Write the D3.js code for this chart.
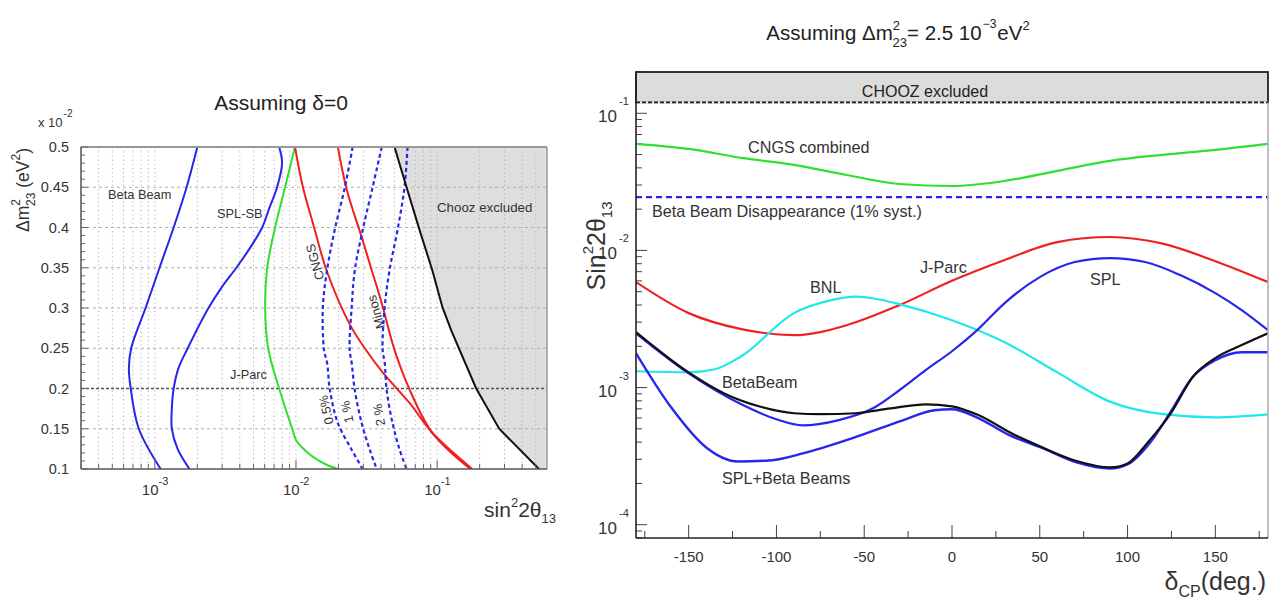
<!DOCTYPE html>
<html><head><meta charset="utf-8">
<script src="https://cdn.jsdelivr.net/npm/d3@7"></script>
<style>
body{margin:0;background:#fff}
svg{font-family:"Liberation Sans",Arial,Helvetica,sans-serif}
</style></head>
<body><svg id="c" width="1274" height="600"></svg>
<script>
// ---------------- LEFT PANEL DATA (sin^2 2theta13 vs dm2_23 [x1e-2 eV^2]) ----------------
const betaBeamDm2 = [0.5,0.45,0.4,0.35,0.3,0.25,0.225,0.2,0.15,0.1];
const betaBeamSin = [2.0e-3,1.68e-3,1.36e-3,1.08e-3,8.6e-4,6.8e-4,6.55e-4,6.75e-4,7.7e-4,1.1e-3];
const splSbDm2 = [0.5,0.48,0.45,0.425,0.4,0.375,0.35,0.325,0.3,0.25,0.225,0.2,0.175,0.15,0.125,0.1];
const splSbSin = [7.6e-3,7.97e-3,7.35e-3,6.5e-3,5.76e-3,4.74e-3,3.78e-3,2.96e-3,2.4e-3,1.71e-3,1.47e-3,1.36e-3,1.32e-3,1.32e-3,1.45e-3,1.76e-3];
const jparcDm2 = [0.5,0.45,0.4,0.35,0.3,0.25,0.2,0.15,0.136,0.127,0.115,0.105,0.1];
const jparcSin = [9.84e-3,8.37e-3,7.11e-3,6.25e-3,6.05e-3,6.35e-3,7.6e-3,9.4e-3,1.0e-2,1.1e-2,1.32e-2,1.66e-2,1.98e-2];
const cngsDm2 = [0.5,0.45,0.405,0.345,0.28,0.25,0.22,0.182,0.145,0.1];
const cngsSin = [9.84e-3,1.12e-2,1.32e-2,1.66e-2,2.4e-2,3.07e-2,4.11e-2,6.37e-2,9.24e-2,0.177];
const minosDm2 = [0.5,0.447,0.388,0.347,0.306,0.248,0.199,0.145,0.1];
const minosSin = [1.98e-2,2.29e-2,2.92e-2,3.44e-2,4.05e-2,4.99e-2,6.37e-2,9.24e-2,0.172];
const systDm2 = [0.5,0.45,0.397,0.347,0.301,0.248,0.232,0.198,0.157,0.124,0.1];
const syst05Sin = [2.52e-2,2.22e-2,1.88e-2,1.66e-2,1.55e-2,1.58e-2,1.66e-2,1.74e-2,1.98e-2,2.48e-2,2.97e-2];
const syst1Sin = [4.05e-2,3.49e-2,2.97e-2,2.61e-2,2.48e-2,2.4e-2,2.48e-2,2.61e-2,2.92e-2,3.33e-2,3.73e-2];
const syst2Sin = [6.17e-2,5.87e-2,5.24e-2,4.6e-2,4.25e-2,4.11e-2,4.25e-2,4.39e-2,4.83e-2,5.42e-2,6.07e-2];
const choozDm2 = [0.5,0.45,0.397,0.347,0.301,0.272,0.2,0.15,0.1];
const choozSin = [4.99e-2,6.07e-2,7.5e-2,9.24e-2,0.109,0.126,0.189,0.275,0.526];
const leftYTicks = [0.1,0.15,0.2,0.25,0.3,0.35,0.4,0.45,0.5];
const leftXDecades = [-3,-2,-1];

// ---------------- RIGHT PANEL DATA (sin^2 2theta13 vs deltaCP) ----------------
const cngsCombDelta = [-180,-150,-120,-90,-60,-30,0,30,60,90,120,150,180];
const cngsCombVal = [0.0599,0.055,0.0473,0.0421,0.0355,0.0305,0.0295,0.0321,0.038,0.045,0.0498,0.0541,0.0599];
const bbDisDelta = [-180,180];
const bbDisVal = [0.0245,0.0245];
const jparcRDelta = [-180,-150,-120,-90,-60,-30,0,30,60,90,120,150,180];
const jparcRVal = [5.88e-3,3.49e-3,2.67e-3,2.41e-3,2.85e-3,3.99e-3,6.0e-3,8.51e-3,1.151e-2,1.253e-2,1.12e-2,8.35e-3,5.88e-3];
const bnlDelta = [-180,-150,-135,-120,-90,-70,-55,-40,-30,0,30,60,90,120,150,180];
const bnlVal = [1.315e-3,1.293e-3,1.36e-3,1.693e-3,3.49e-3,4.3e-3,4.6e-3,4.35e-3,4.06e-3,3.1e-3,2.14e-3,1.29e-3,7.9e-4,6.4e-4,6.07e-4,6.38e-4];
const betaBeamRDelta = [-180,-150,-130,-110,-90,-75,-55,-35,-15,0,15,35,50,70,90,100,112,125,137,150,165,180];
const betaBeamRVal = [2.54e-3,1.29e-3,9.1e-4,7.3e-4,6.5e-4,6.4e-4,6.5e-4,7.06e-4,7.55e-4,7.3e-4,6.3e-4,4.56e-4,3.73e-4,2.94e-4,2.62e-4,2.8e-4,4.05e-4,6.6e-4,1.19e-3,1.64e-3,2.04e-3,2.49e-3];
const splDelta = [-180,-150,-120,-100,-85,-65,-45,-30,-15,0,15,30,50,70,90,110,130,150,165,180];
const splVal = [2.49e-3,1.27e-3,7.55e-4,5.87e-4,5.3e-4,5.77e-4,7.06e-4,9.56e-4,1.34e-3,1.84e-3,2.67e-3,4.13e-3,6.39e-3,8.23e-3,8.8e-3,8.23e-3,6.61e-3,4.88e-3,3.67e-3,2.62e-3];
const splBbDelta = [-180,-160,-140,-122,-104,-85,-57,-28,-10,0,14,33,52,71,90,101,113,124,137,150,165,180];
const splBbVal = [1.78e-3,7.18e-4,3.66e-4,2.89e-4,2.94e-4,3.31e-4,4.26e-4,5.77e-4,6.83e-4,6.94e-4,6.07e-4,4.48e-4,3.6e-4,2.85e-4,2.57e-4,2.8e-4,3.99e-4,6.49e-4,1.189e-3,1.583e-3,1.81e-3,1.81e-3];
const choozLimit = 0.12;
const rightXTicks = [-150,-100,-50,0,50,100,150];
const rightYDecades = [-4,-3,-2,-1];

// ---------------- COLORS ----------------
const BLUE="#2626ee", RED="#f02020", GREEN="#30e030", CYAN="#20e8e8";

const svg = d3.select("#c");

function rich(g, x, y, parts, attrs){
  const t = g.append("text").attr("x",x).attr("y",y);
  Object.entries(attrs||{}).forEach(([k,v])=>t.attr(k,v));
  let cur=0;
  parts.forEach(p=>{
    const [s, sh=0, fs=null, dx=0] = p;
    const ts = t.append("tspan").text(s).attr("dy", sh-cur);
    if(fs) ts.attr("font-size", fs);
    if(dx) ts.attr("dx", dx);
    cur = sh;
  });
  return t;
}

// ================= LEFT PANEL =================
const L = {l:81, r:547, t:147, b:469};
const Lx = d3.scaleLog().domain([3e-4,0.6]).range([L.l, L.r]);
const Ly = d3.scaleLinear().domain([0.1,0.5]).range([L.b, L.t]);
const lg = svg.append("g");
lg.append("clipPath").attr("id","clipL").append("rect")
  .attr("x",L.l).attr("y",L.t).attr("width",L.r-L.l).attr("height",L.b-L.t);

// gray Chooz region
const choozPts = d3.zip(choozSin, choozDm2);
const regionPts = choozPts.concat([[0.6,0.1],[0.6,0.5]]);
lg.append("path").attr("clip-path","url(#clipL)")
  .attr("d", d3.line().x(d=>Lx(d[0])).y(d=>Ly(d[1]))(regionPts)+"Z")
  .attr("fill","#dedede");

// grid
const logTicksL = [];
for(let e=-4;e<=-1;e++) for(let m=1;m<=9;m++){ const v=m*Math.pow(10,e); if(v>3e-4 && v<0.6) logTicksL.push(v); }
lg.selectAll(".gv").data(logTicksL).join("line")
  .attr("x1",d=>Lx(d)).attr("x2",d=>Lx(d)).attr("y1",L.t).attr("y2",L.b)
  .attr("stroke","#b0b0b0").attr("stroke-width",1).attr("stroke-dasharray","1.2,3");
lg.selectAll(".gh").data(leftYTicks.filter(v=>v>0.1 && v<0.5 && v!==0.2)).join("line")
  .attr("x1",L.l).attr("x2",L.r).attr("y1",d=>Ly(d)).attr("y2",d=>Ly(d))
  .attr("stroke","#b0b0b0").attr("stroke-width",1).attr("stroke-dasharray","3,3");
lg.append("line").attr("x1",L.l).attr("x2",L.r).attr("y1",Ly(0.2)).attr("y2",Ly(0.2))
  .attr("stroke","#555").attr("stroke-width",1.3).attr("stroke-dasharray","3,2");

// curves
const lineL = d3.line().x(d=>Lx(d[0])).y(d=>Ly(d[1])).curve(d3.curveCatmullRom.alpha(0.5));
const cl = lg.append("g").attr("clip-path","url(#clipL)").attr("fill","none");
function lcurve(sin, dm, color, w, dash){
  const p = cl.append("path").attr("d", lineL(d3.zip(sin,dm))).attr("stroke",color).attr("stroke-width",w);
  if(dash) p.attr("stroke-dasharray",dash);
}
lcurve(betaBeamSin, betaBeamDm2, BLUE, 2);
lcurve(splSbSin, splSbDm2, BLUE, 2);
lcurve(jparcSin, jparcDm2, GREEN, 2);
lcurve(cngsSin, cngsDm2, RED, 2);
lcurve(minosSin, minosDm2, RED, 2);
lcurve(syst05Sin, systDm2, BLUE, 2.2, "4,3");
lcurve(syst1Sin, systDm2, BLUE, 2.2, "4,3");
lcurve(syst2Sin, systDm2, BLUE, 2.2, "4,3");
cl.append("path").attr("d", d3.line().x(d=>Lx(d[0])).y(d=>Ly(d[1]))(choozPts))
  .attr("stroke","#111").attr("stroke-width",2);

// frame
lg.append("line").attr("x1",L.l).attr("x2",L.r).attr("y1",L.t).attr("y2",L.t).attr("stroke","#999").attr("stroke-width",2);
lg.append("line").attr("x1",L.r).attr("x2",L.r).attr("y1",L.t).attr("y2",L.b).attr("stroke","#999").attr("stroke-width",1.5);
lg.append("line").attr("x1",L.l).attr("x2",L.l).attr("y1",L.t).attr("y2",L.b).attr("stroke","#555").attr("stroke-width",1.5);
lg.append("line").attr("x1",L.l).attr("x2",L.r).attr("y1",L.b).attr("y2",L.b).attr("stroke","#555").attr("stroke-width",1.5);

// y ticks
const yMinorL = d3.range(10,51).map(v=>v/100);
lg.selectAll(".ytm").data(yMinorL).join("line")
  .attr("x1",L.l).attr("x2",d=>L.l+(Math.round(d*100)%5===0?7:4)).attr("y1",d=>Ly(d)).attr("y2",d=>Ly(d))
  .attr("stroke","#666").attr("stroke-width",1);
lg.selectAll(".ytl").data(leftYTicks).join("text")
  .attr("x",69).attr("y",d=>Ly(d)+5).attr("text-anchor","end")
  .attr("font-size",14.5).attr("fill","#333").text(d=>d3.format("")(d));
// x ticks
lg.selectAll(".xtm").data(logTicksL).join("line")
  .attr("x1",d=>Lx(d)).attr("x2",d=>Lx(d)).attr("y1",L.b)
  .attr("y2",d=>L.b-(Math.abs(Math.log10(d)-Math.round(Math.log10(d)))<1e-6?9:5))
  .attr("stroke","#666").attr("stroke-width",1);
leftXDecades.forEach(e=>{
  rich(lg, Lx(Math.pow(10,e))-13, 495, [["10",0],[String(e),-10,11]], {"font-size":15, fill:"#333"});
});
rich(lg, 38, 127, [["x 10",0],["-2",-10,10,1]], {"font-size":13, fill:"#333"});

// left titles
lg.append("text").attr("x",281).attr("y",110).attr("text-anchor","middle").attr("font-size",21).attr("fill","#222").text("Assuming δ=0");
rich(lg.append("g").attr("transform","translate(29,190) rotate(-90)"), 0, 0,
  [["Δm",0],["2",-9,12],["23",6,12,-7],[" (eV",0],["2",-9,12],[")",0]],
  {"font-size":17.5, fill:"#333", "text-anchor":"middle"});
rich(lg, 556, 517, [["sin",0],["2",-10,13],["2θ",0],["13",6,13]], {"font-size":21, fill:"#333","text-anchor":"end"});

// left curve labels
const lfs = 12.8;
lg.append("text").attr("x",108).attr("y",199).attr("font-size",lfs).attr("fill","#333").text("Beta Beam");
lg.append("text").attr("x",217).attr("y",218).attr("font-size",lfs).attr("fill","#333").text("SPL-SB");
lg.append("text").attr("x",230).attr("y",379).attr("font-size",lfs).attr("fill","#333").text("J-Parc");
lg.append("text").attr("x",437).attr("y",212).attr("font-size",13.3).attr("fill","#333").text("Chooz excluded");
function rlabel(x,y,ang,txt){
  lg.append("text").attr("transform",`translate(${x},${y}) rotate(${ang})`).attr("text-anchor","middle")
    .attr("dy","0.35em").attr("font-size",lfs).attr("fill","#333").text(txt);
}
rlabel(315,262,-106,"CNGS");
rlabel(376,312,-106,"Minos");
rlabel(326,410,-103,"0.5%");
rlabel(347,412,-103,"1 %");
rlabel(379,415,-100,"2 %");

// ================= RIGHT PANEL =================
const R = {l:636, r:1268, t:72, b:538};
const Rx = d3.scaleLinear().domain([-180,180]).range([R.l, R.r]);
const Ry = d3.scaleLog().domain([8e-5,0.2]).range([R.b, R.t]);
const rg = svg.append("g");
rg.append("clipPath").attr("id","clipR").append("rect")
  .attr("x",R.l).attr("y",R.t).attr("width",R.r-R.l).attr("height",R.b-R.t);

// y ticks
const logTicksR = [];
for(let e=-5;e<=-1;e++) for(let m=1;m<=9;m++){ const v=m*Math.pow(10,e); if(v>=8e-5 && v<=0.2) logTicksR.push({v, major:m===1}); }
rg.selectAll(".rytm").data(logTicksR).join("line")
  .attr("x1",R.l).attr("x2",d=>R.l+(d.major?11:6)).attr("y1",d=>Ry(d.v)).attr("y2",d=>Ry(d.v))
  .attr("stroke","#444").attr("stroke-width",1);
rightYDecades.forEach(e=>{
  const y = Ry(Math.pow(10,e));
  rg.append("text").attr("x",617).attr("y",y+9).attr("text-anchor","end").attr("font-size",17).attr("fill","#333").text("10");
  rg.append("text").attr("x",619).attr("y",y-8).attr("font-size",11).attr("fill","#333").text(String(e));
});
// x ticks
const xMinorR = d3.range(-175,180,25);
rg.selectAll(".rxtm").data(xMinorR).join("line")
  .attr("x1",d=>Rx(d)).attr("x2",d=>Rx(d)).attr("y1",R.b).attr("y2",d=>R.b-(d%50===0?13:7))
  .attr("stroke","#444").attr("stroke-width",1);
rg.selectAll(".rxtl").data(rightXTicks).join("text")
  .attr("x",d=>Rx(d)).attr("y",R.b+24).attr("text-anchor","middle").attr("font-size",15).attr("fill","#333")
  .text(d=>String(d));

// curves
const lineR = d3.line().x(d=>Rx(d[0])).y(d=>Ry(d[1])).curve(d3.curveMonotoneX);
const cr = rg.append("g").attr("clip-path","url(#clipR)").attr("fill","none");
function rcurve(dl, val, color, w, dash){
  const p = cr.append("path").attr("d", lineR(d3.zip(dl,val))).attr("stroke",color).attr("stroke-width",w);
  if(dash) p.attr("stroke-dasharray",dash);
}
rcurve(cngsCombDelta, cngsCombVal, GREEN, 2.2);
rcurve(bbDisDelta, bbDisVal, BLUE, 2.2, "6,4");
rcurve(jparcRDelta, jparcRVal, RED, 2.2);
rcurve(bnlDelta, bnlVal, CYAN, 2.2);
rcurve(splDelta, splVal, BLUE, 2.2);
rcurve(splBbDelta, splBbVal, BLUE, 2.4);
rcurve(betaBeamRDelta, betaBeamRVal, "#111", 2.2);

// CHOOZ band
rg.append("rect").attr("x",R.l).attr("y",R.t).attr("width",R.r-R.l).attr("height",Ry(choozLimit)-R.t)
  .attr("fill","#dcdcdc").attr("stroke","#222").attr("stroke-width",1.8);
rg.append("line").attr("x1",R.l).attr("x2",R.r).attr("y1",Ry(choozLimit)).attr("y2",Ry(choozLimit))
  .attr("stroke","#fff").attr("stroke-width",2);
rg.append("line").attr("x1",R.l).attr("x2",R.r).attr("y1",Ry(choozLimit)).attr("y2",Ry(choozLimit))
  .attr("stroke","#222").attr("stroke-width",1.6).attr("stroke-dasharray","4,2");
rg.append("text").attr("x",925).attr("y",97).attr("text-anchor","middle").attr("font-size",16).attr("fill","#222").text("CHOOZ excluded");

// frame
rg.append("line").attr("x1",R.r).attr("x2",R.r).attr("y1",Ry(choozLimit)).attr("y2",R.b).attr("stroke","#aaa").attr("stroke-width",1.5);
rg.append("line").attr("x1",R.l).attr("x2",R.l).attr("y1",R.t).attr("y2",R.b).attr("stroke","#222").attr("stroke-width",1.6);
rg.append("line").attr("x1",R.l).attr("x2",R.r).attr("y1",R.b).attr("y2",R.b).attr("stroke","#222").attr("stroke-width",1.6);

// right labels
const rfs = 16.2;
function rtext(x,y,t){ rg.append("text").attr("x",x).attr("y",y).attr("font-size",rfs).attr("fill","#333").text(t); }
rtext(748,153,"CNGS combined");
rtext(652,217,"Beta Beam Disappearance (1% syst.)");
rtext(920,273,"J-Parc");
rtext(810,293,"BNL");
rtext(1090,285,"SPL");
rtext(722,388,"BetaBeam");
rtext(722,484,"SPL+Beta Beams");

// right titles
rich(rg, 898, 40, [["Assuming Δm",0],["2",-10,13],["23",7,13,-7.5],["= 2.5 10",0],["−3",-12,12,1],["eV",0,null,1],["2",-10,13]],
  {"font-size":20.5, fill:"#222","text-anchor":"middle"});
rich(rg.append("g").attr("transform","translate(605,246) rotate(-90)"), 0, 0,
  [["Sin",0],["2",-12,15],["2θ",0],["13",7,15]], {"font-size":25, fill:"#333","text-anchor":"middle"});
rich(rg, 1266, 590, [["δ",0],["CP",7,16],["(deg.)",0]], {"font-size":25, fill:"#333","text-anchor":"end"});
</script>
</body></html>
